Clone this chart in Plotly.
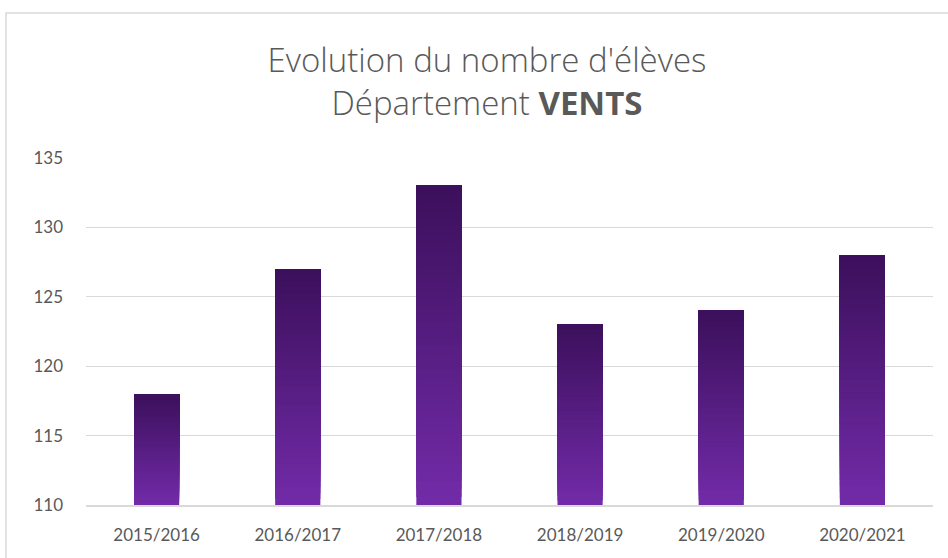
import plotly.graph_objects as go

categories = ["2015/2016", "2016/2017", "2017/2018", "2018/2019", "2019/2020", "2020/2021"]
eleves = [118, 127, 133, 123, 124, 128]
y_ticks = [110, 115, 120, 125, 130, 135]

BASE = 110
N = 40
top_rgb = (0x3c, 0x10, 0x5c)
bot_rgb = (0x72, 0x2b, 0xa8)

fig = go.Figure()
# layered gradient: each layer starts higher and covers up to the bar top
for k in range(N):
    t = k / (N - 1)
    r = round(bot_rgb[0] + (top_rgb[0] - bot_rgb[0]) * t)
    g = round(bot_rgb[1] + (top_rgb[1] - bot_rgb[1]) * t)
    b = round(bot_rgb[2] + (top_rgb[2] - bot_rgb[2]) * t)
    starts = [BASE + k * (v - BASE) / N for v in eleves]
    fig.add_trace(go.Bar(
        x=categories,
        y=[v - s for v, s in zip(eleves, starts)],
        base=starts,
        width=0.32,
        marker=dict(color=f"rgb({r},{g},{b})", line=dict(width=0)),
        showlegend=False,
        hoverinfo="skip",
    ))

fig.add_trace(go.Bar(x=categories, y=[v - BASE for v in eleves], base=BASE, width=0.32,
                     marker=dict(color="rgba(0,0,0,0)", line=dict(width=0)), showlegend=False,
                     hovertemplate="%{x}: %{customdata}<extra></extra>", customdata=eleves))

fig.update_layout(
    width=948, height=558,
    barmode="overlay",
    paper_bgcolor="white", plot_bgcolor="white",
    margin=dict(l=86, r=15, t=158, b=53),
    font=dict(family="Lato", color="#595959", size=17),
    title=dict(
        text="Evolution du nombre d'élèves<br>Département <b>VENTS</b>",
        x=487 / 948, xanchor="center",
        y=1 - 72 / 558, yanchor="top",
        font=dict(family="Open Sans", size=33, color="#595959", weight=300),
    ),
    xaxis=dict(showgrid=False, showline=True, linecolor="#d9d9d9", linewidth=1.5,
               ticks="", ticklabelstandoff=14, tickfont=dict(size=17, color="#595959")),
    yaxis=dict(range=[BASE, 135], tickvals=y_ticks, showgrid=True, gridcolor="#d9d9d9",
               gridwidth=1.3, zeroline=False, showline=False, ticks="",
               ticklabelstandoff=22, tickfont=dict(size=17, color="#595959")),
    shapes=[dict(type="rect", xref="paper", yref="paper",
                 x0=(6 - 86) / 847, x1=1.5, y0=-0.5, y1=(505 - 13) / 347,
                 line=dict(color="#d9d9d9", width=1.5), layer="below")],
)

fig.write_html("out.html", config={"displayModeBar": False},
               post_script="document.body.style.margin='0';document.body.style.overflow='hidden';")
